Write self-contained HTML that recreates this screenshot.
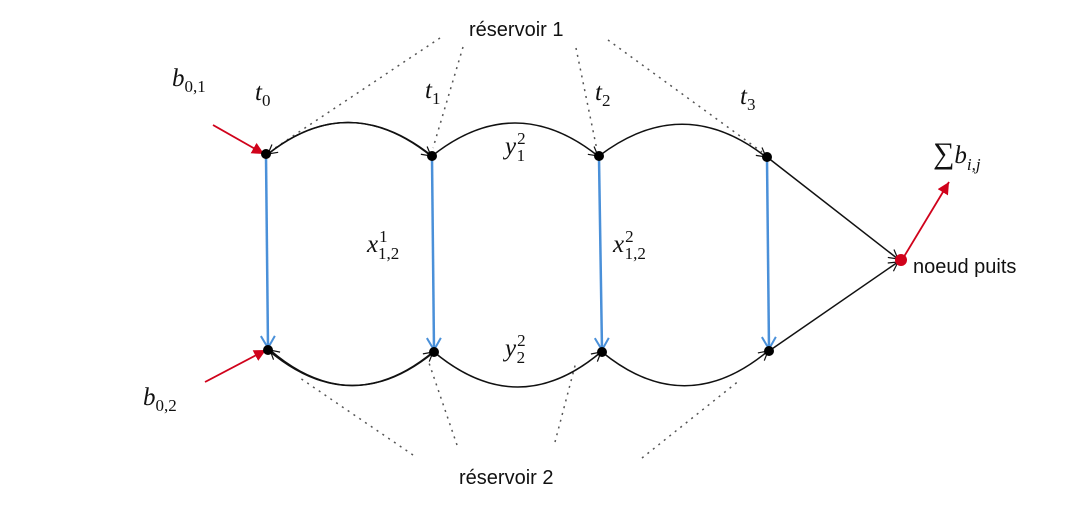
<!DOCTYPE html>
<html><head><meta charset="utf-8"><style>
html,body{margin:0;padding:0;background:#fff;width:1091px;height:528px;overflow:hidden}
svg{display:block}
.m{font-family:"Liberation Serif",serif;font-style:italic;font-size:25px;fill:#111}
.s{font-size:17px;font-style:normal}
.si{font-size:17px}
.t{font-family:"Liberation Sans",sans-serif;font-size:20px;fill:#111}
</style></head><body>
<svg width="1091" height="528" viewBox="0 0 1091 528">
<defs>
<marker id="oa" markerWidth="12" markerHeight="12" refX="10" refY="6" orient="auto" markerUnits="userSpaceOnUse"><path d="M1,1 L10,6 L1,11" fill="none" stroke="#111" stroke-width="1.2"/></marker>
<marker id="ba" markerWidth="16" markerHeight="16" refX="13" refY="8" orient="auto" markerUnits="userSpaceOnUse"><path d="M1,1 L13,8 L1,15" fill="none" stroke="#4a90d9" stroke-width="2"/></marker>
<marker id="ra" markerWidth="14" markerHeight="14" refX="12" refY="7" orient="auto" markerUnits="userSpaceOnUse"><path d="M0,1 L12,7 L0,13 Z" fill="#d0021b"/></marker>
</defs>
<g stroke="#555" stroke-width="1.5" stroke-dasharray="2,5" fill="none">
<line x1="440" y1="38" x2="272" y2="150"/><line x1="463" y1="47" x2="433" y2="148"/>
<line x1="576" y1="48" x2="597" y2="150"/><line x1="608" y1="40" x2="762" y2="152"/>
<line x1="413" y1="455" x2="300" y2="378"/><line x1="457" y1="445" x2="428" y2="360"/>
<line x1="555" y1="442" x2="576" y2="362"/><line x1="642" y1="458" x2="740" y2="380"/>
</g>
<g stroke="#111" stroke-width="1.5" fill="none">
<path d="M432,156 Q349,90 268,154" marker-end="url(#oa)"/>
<path d="M268,154 Q349,90 431,156" marker-end="url(#oa)"/>
<path d="M432,156 Q515,90 598,156" marker-end="url(#oa)"/>
<path d="M599,156 Q683,92 766,157" marker-end="url(#oa)"/>
<path d="M434,352 Q351,420 270,350" marker-end="url(#oa)"/>
<path d="M268,350 Q351,420 433,352" marker-end="url(#oa)"/>
<path d="M434,352 Q518,422 601,352" marker-end="url(#oa)"/>
<path d="M602,352 Q685,420 768,351" marker-end="url(#oa)"/>
<line x1="767" y1="157" x2="898" y2="259" marker-end="url(#oa)"/>
<line x1="769" y1="351" x2="898" y2="262" marker-end="url(#oa)"/>
</g>
<g stroke="#4a90d9" stroke-width="2.5" fill="none">
<line x1="266" y1="156" x2="268" y2="348" marker-end="url(#ba)"/>
<line x1="432" y1="158" x2="434" y2="350" marker-end="url(#ba)"/>
<line x1="599" y1="158" x2="602" y2="350" marker-end="url(#ba)"/>
<line x1="767" y1="159" x2="769" y2="349" marker-end="url(#ba)"/>
</g>
<g stroke="#d0021b" stroke-width="1.8">
<line x1="213" y1="125" x2="264" y2="154" marker-end="url(#ra)"/>
<line x1="205" y1="382" x2="266" y2="350" marker-end="url(#ra)"/>
<line x1="902" y1="260" x2="949" y2="182" marker-end="url(#ra)"/>
</g>
<g fill="#000">
<circle cx="266" cy="154" r="5"/><circle cx="432" cy="156" r="5"/><circle cx="599" cy="156" r="5"/><circle cx="767" cy="157" r="5"/>
<circle cx="268" cy="350" r="5"/><circle cx="434" cy="352" r="5"/><circle cx="602" cy="352" r="5"/><circle cx="769" cy="351" r="5"/>
<circle cx="901" cy="260" r="6" fill="#d0021b"/>
</g>
<text class="t" x="469" y="36">réservoir 1</text>
<text class="t" x="459" y="484">réservoir 2</text>
<text class="t" x="913" y="273">noeud puits</text>
<text class="m" x="172" y="86">b<tspan class="s" dy="6">0,1</tspan></text>
<text class="m" x="143" y="405">b<tspan class="s" dy="6">0,2</tspan></text>
<text class="m" x="255" y="100">t<tspan class="s" dy="6">0</tspan></text>
<text class="m" x="425" y="98">t<tspan class="s" dy="6">1</tspan></text>
<text class="m" x="595" y="100">t<tspan class="s" dy="6">2</tspan></text>
<text class="m" x="740" y="104">t<tspan class="s" dy="6">3</tspan></text>
<text class="m" x="505" y="154">y<tspan class="s" dx="1" dy="-10">2</tspan><tspan class="s" dx="-9" dy="17">1</tspan></text>
<text class="m" x="505" y="356">y<tspan class="s" dx="1" dy="-10">2</tspan><tspan class="s" dx="-9" dy="17">2</tspan></text>
<text class="m" x="367" y="252">x<tspan class="s" dx="1" dy="-10">1</tspan><tspan class="s" dx="-9" dy="17">1,2</tspan></text>
<text class="m" x="613" y="252">x<tspan class="s" dx="1" dy="-10">2</tspan><tspan class="s" dx="-9" dy="17">1,2</tspan></text>
<text class="m" x="933" y="163"><tspan style="font-style:normal;font-size:30px">∑</tspan>b<tspan class="si" dy="7">i,j</tspan></text>
</svg>
</body></html>
